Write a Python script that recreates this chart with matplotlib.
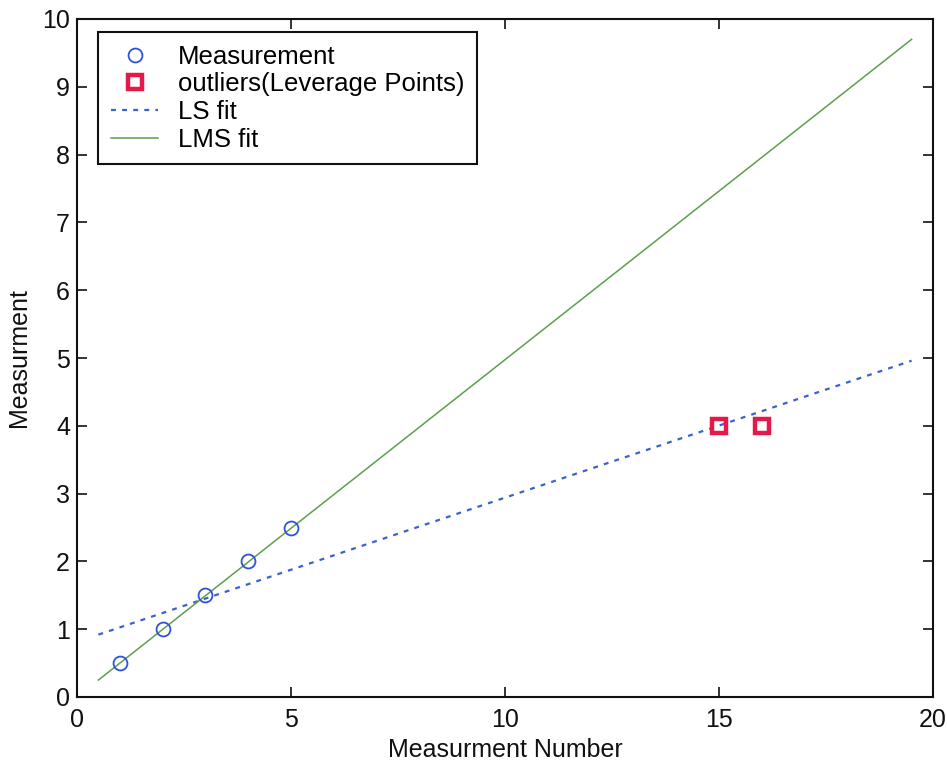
import matplotlib
matplotlib.use("Agg")
import matplotlib.pyplot as plt

plt.rcParams['font.family'] = ['Liberation Sans', 'DejaVu Sans']

# Data
meas_x = [1, 2, 3, 4, 5]
meas_y = [0.5, 1.0, 1.5, 2.0, 2.5]
out_x = [15, 16]
out_y = [4.0, 4.0]
ls_x = [0.5, 19.5]
ls_y = [0.92, 4.96]
lms_x = [0.5, 19.5]
lms_y = [0.25, 9.7]
xticks = [0, 5, 10, 15, 20]
yticks = list(range(0, 11))

fig = plt.figure(figsize=(9.47, 7.71), dpi=100)
ax = fig.add_axes([77/947, 1-697/771, 856/947, 678/771])

ax.plot(meas_x, meas_y, 'o', linestyle='none', markersize=10, markerfacecolor='none',
        markeredgecolor='#2f52d8', markeredgewidth=1.3, label='Measurement', zorder=4)
ax.plot(out_x, out_y, 's', linestyle='none', markersize=10, markerfacecolor='none',
        markeredgecolor='#e5184b', markeredgewidth=3.2, label='outliers(Leverage Points)', zorder=4)
ax.plot(ls_x, ls_y, linestyle=(0, (2.2, 2.8)), color='#3a62cc', linewidth=1.6, label='LS fit', zorder=3)
ax.plot(lms_x, lms_y, '-', color='#5e9e4e', linewidth=1.1, label='LMS fit', zorder=3)

ax.set_xlim(0, 20)
ax.set_ylim(0, 10)
ax.set_xticks(xticks)
ax.set_yticks(yticks)
ax.tick_params(direction='in', top=True, right=True, length=7, width=1.2,
               labelsize=18, colors='#111111')
ax.tick_params(axis='x', pad=8)
ax.tick_params(axis='y', pad=5)
for s in ax.spines.values():
    s.set_linewidth(1.5)
    s.set_color('#111111')

ax.set_xlabel('Measurment Number', fontsize=18, color='#111111', labelpad=4)
ax.set_ylabel('Measurment', fontsize=18, color='#111111', labelpad=8)

leg = ax.legend(loc='upper left', bbox_to_anchor=(21/856, 1-13/678), borderaxespad=0,
                fontsize=18.5, fancybox=False, edgecolor='#111111', framealpha=1,
                handlelength=1.85, handletextpad=0.75, labelspacing=0.14, borderpad=0.5)
leg.get_frame().set_linewidth(1.5)

fig.savefig('out.png', dpi=100)
